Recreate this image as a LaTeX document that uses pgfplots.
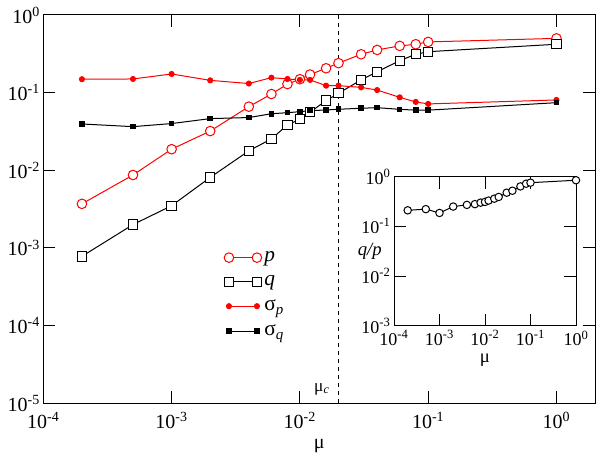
\documentclass[border=0pt]{standalone}
\usepackage{pgfplots}
\pgfplotsset{compat=1.18}
\usepackage{fontspec}
\setmainfont{Liberation Serif}
\newcommand\logexp{\pgfmathtruncatemacro\myexp{round(\tick)}10\textsuperscript{\myexp}}

\begin{document}
\begin{tikzpicture}
\useasboundingbox (-32.5pt,-41.8pt) rectangle (417.5pt,302.45pt);
\begin{axis}[
 at={(0pt,0pt)}, anchor=south west, scale only axis,
 width=413.8pt, height=291.2pt,
 xmode=log, ymode=log, log basis x=10, log basis y=10,
 xmin=1e-4, xmax=2, ymin=1e-5, ymax=1,
 xtick={1e-4,1e-3,1e-2,1e-1,1},
 ytick={1e-5,1e-4,1e-3,1e-2,1e-1,1},
 yminorticks=false,
 tick align=inside,
 major tick length=9pt, minor tick length=4.5pt,
 every tick/.style={black, line width=0.75pt},
 axis line style={line width=0.75pt},
 xticklabel={\logexp}, yticklabel={\logexp},
 tick label style={font=\fontsize{15}{17}\selectfont},
 xticklabel style={yshift=-3pt},
 yticklabel style={xshift=1pt},
 xlabel={μ}, xlabel style={font=\fontsize{15}{17}\selectfont, yshift=-1pt},
 legend style={draw=none, fill=none, at={(0.32,0.405)}, anchor=north west,
   font=\fontsize{16}{19}\selectfont, row sep=5pt},
 legend cell align=left,
 legend image code/.code={\draw[mark repeat=1,mark phase=1,#1] plot coordinates {(0pt,0pt) (21pt,0pt)};},
]
\addplot[red, line width=0.75pt, mark=*, mark size=3.6pt, mark options={fill=white, draw=red}] coordinates {
(2e-4,3.7e-3) (5e-4,8.7e-3) (1e-3,1.87e-2) (2e-3,3.2e-2) (4e-3,6.6e-2) (6e-3,0.096)
(8e-3,0.129) (1e-2,0.149) (1.2e-2,0.171) (1.6e-2,0.206) (2e-2,0.240) (3e-2,0.312)
(4e-2,0.355) (6e-2,0.40) (8e-2,0.42) (0.1,0.45) (1,0.50)};
\addlegendentry{\textit{p}}
\addplot[black, line width=0.75pt, mark=square*, mark size=3.5pt, mark options={fill=white, draw=black}] coordinates {
(2e-4,7.8e-4) (5e-4,2.0e-3) (1e-3,3.5e-3) (2e-3,8.1e-3) (4e-3,1.78e-2) (6e-3,2.54e-2)
(8e-3,3.84e-2) (1e-2,4.55e-2) (1.2e-2,5.6e-2) (1.6e-2,7.9e-2) (2e-2,0.098) (3e-2,0.146)
(4e-2,0.186) (6e-2,0.258) (8e-2,0.312) (0.1,0.337) (1,0.42)};
\addlegendentry{\textit{q}}
\addplot[red, line width=0.75pt, mark=*, mark size=1.9pt] coordinates {
(2e-4,0.149) (5e-4,0.150) (1e-3,0.174) (2e-3,0.144) (4e-3,0.131) (6e-3,0.156)
(8e-3,0.150) (1e-2,0.146) (1.2e-2,0.146) (1.6e-2,0.123) (2e-2,0.123) (3e-2,0.117)
(4e-2,0.108) (6e-2,0.087) (8e-2,0.076) (0.1,0.0716) (1,0.0805)};
\addlegendentry{σ\textsubscript{\textit{p}}}
\addplot[black, line width=0.75pt, mark=square*, mark size=1.7pt] coordinates {
(2e-4,0.0395) (5e-4,0.0365) (1e-3,0.040) (2e-3,0.0463) (4e-3,0.0478) (6e-3,0.0535)
(8e-3,0.0552) (1e-2,0.0569) (1.2e-2,0.0586) (1.6e-2,0.0598) (2e-2,0.0611) (3e-2,0.063)
(4e-2,0.064) (6e-2,0.061) (8e-2,0.0595) (0.1,0.0595) (1,0.0743)};
\addlegendentry{σ\textsubscript{\textit{q}}}
\addplot[black, line width=0.75pt, dash pattern=on 3.5pt off 2.5pt, forget plot] coordinates {(0.02,1e-5) (0.02,1)};
\node[anchor=south east, font=\fontsize{13}{15}\selectfont, inner sep=0pt, xshift=-6.5pt, yshift=6pt] at (axis cs:0.02,1e-5) {μ\textsubscript{\textit{c}}};
\end{axis}
\begin{axis}[
 at={(263pt,58pt)}, anchor=south west, scale only axis,
 width=136.5pt, height=112pt,
 xmode=log, ymode=log, log basis x=10, log basis y=10,
 xmin=1e-4, xmax=1, ymin=1e-3, ymax=1,
 xtick={1e-4,1e-3,1e-2,1e-1,1}, ytick={1e-3,1e-2,1e-1,1},
 xminorticks=false, yminorticks=false,
 tick align=inside, major tick length=9pt,
 every tick/.style={black, line width=0.75pt},
 axis line style={line width=0.75pt},
 xticklabel={\logexp}, yticklabel={\logexp},
 tick label style={font=\fontsize{13.5}{15}\selectfont},
 yticklabel style={xshift=1pt},
 xlabel={μ}, xlabel style={font=\fontsize{14}{16}\selectfont, yshift=1pt},
 ylabel={\textit{q/p}},
 ylabel style={rotate=-90, font=\fontsize{14}{16}\selectfont, at={(rel axis cs:0,0.5)}, anchor=east, inner sep=0pt, xshift=-9pt},
 axis background/.style={fill=white},
]
\addplot[black, line width=0.75pt, mark=*, mark size=2.8pt, mark options={fill=white, draw=black}] coordinates {
(2e-4,0.21) (5e-4,0.222) (1e-3,0.186) (2e-3,0.25) (4e-3,0.27) (6e-3,0.28) (8e-3,0.30)
(1e-2,0.31) (1.2e-2,0.33) (1.6e-2,0.36) (2e-2,0.39) (3e-2,0.475) (4e-2,0.52) (6e-2,0.635)
(8e-2,0.72) (0.1,0.755) (1,0.845)};
\end{axis}
\end{tikzpicture}
\end{document}
